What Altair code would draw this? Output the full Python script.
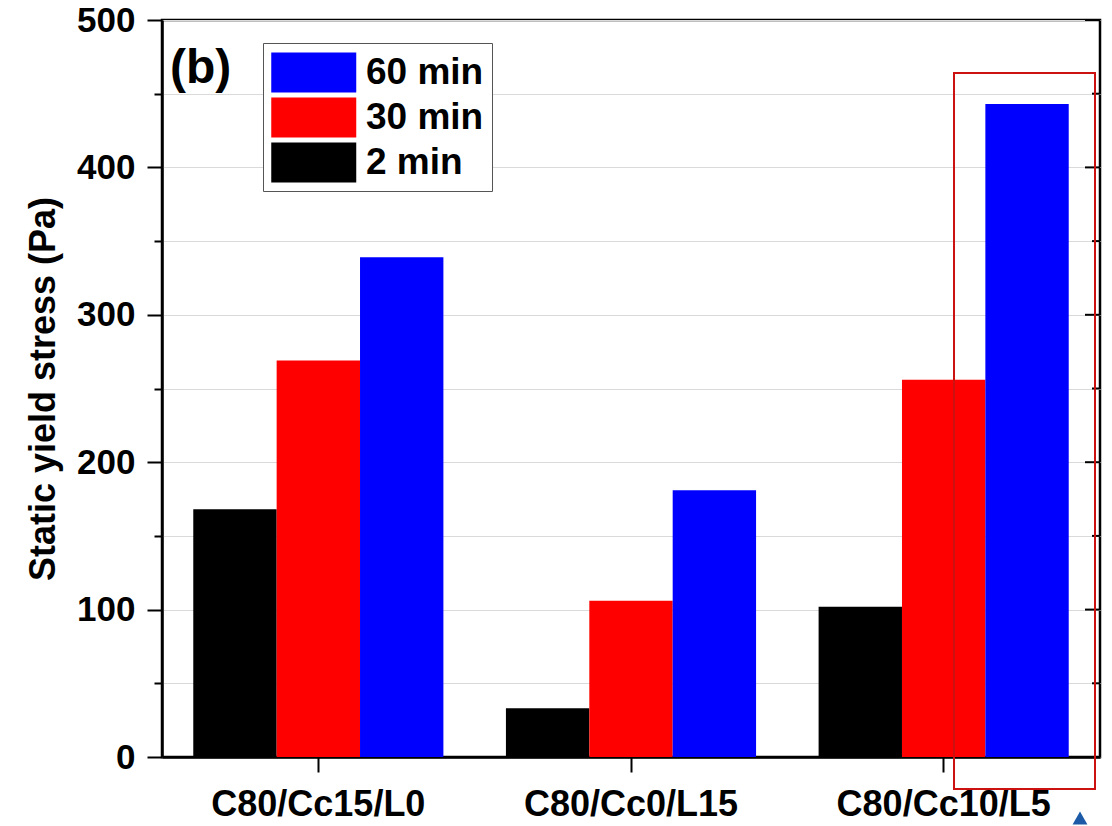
import altair as alt
import pandas as pd

groups = ["C80/Cc15/L0", "C80/Cc0/L15", "C80/Cc10/L5"]
times = ["2 min", "30 min", "60 min"]
legend_order = ["60 min", "30 min", "2 min"]
colors = ["#0000ff", "#ff0000", "#000000"]
v2 = [168, 33, 102]
v30 = [269, 106, 256]
v60 = [339, 181, 443]
y_ticks = [0, 50, 100, 150, 200, 250, 300, 350, 400, 450, 500]
panel_label = ["(b)"]

rows = []
for i, g in enumerate(groups):
    for t, vals in zip(times, [v2, v30, v60]):
        rows.append({"group": g, "time": t, "value": vals[i]})
df = pd.DataFrame(rows)
ticks_major = pd.DataFrame({"value": [v for v in y_ticks if v % 100 == 0]})
ticks_minor = pd.DataFrame({"value": [v for v in y_ticks if v % 100 != 0]})
one = pd.DataFrame({"label": panel_label})

W, H = 938, 737
FONT = "Liberation Sans"
TITLE = "Static yield stress (Pa)"

yscale = alt.Scale(domain=[0, 500], nice=False)

bars = alt.Chart(df).mark_bar(strokeWidth=0).encode(
    x=alt.X("group:N", sort=groups,
            scale=alt.Scale(paddingInner=0.2, paddingOuter=0.1),
            axis=alt.Axis(title=None, labelAngle=0, labelFont=FONT, labelFontSize=36,
                          labelFontWeight="bold", labelColor="black", tickSize=15,
                          tickWidth=2, tickColor="black", domainColor="black",
                          domainWidth=2.5, labelPadding=15, labelLimit=0, grid=False)),
    xOffset=alt.XOffset("time:N", sort=times, scale=alt.Scale(paddingInner=0, paddingOuter=0)),
    y=alt.Y("value:Q", scale=yscale,
            axis=alt.Axis(values=y_ticks, title=TITLE,
                          labelExpr="datum.value % 100 === 0 ? datum.label : ''",
                          tickSize={"condition": {"test": "datum.value % 100 === 0", "value": 15}, "value": 8},
                          tickWidth=2, tickColor="black", domainColor="black", domainWidth=2.5,
                          labelFont=FONT, labelFontSize=35, labelFontWeight="bold",
                          labelColor="black", labelPadding=12,
                          titleFont=FONT, titleFontSize=36, titleFontWeight="bold",
                          titleColor="black", titlePadding=14,
                          grid=True, gridColor="#dadada", gridWidth=1)),
    color=alt.Color("time:N",
                    scale=alt.Scale(domain=legend_order, range=colors),
                    legend=alt.Legend(title=None, orient="none", legendX=101, legendY=23,
                                      symbolType="M-1,-0.94L3,-0.94L3,0.94L-1,0.94Z",
                                      symbolSize=1806, symbolStrokeWidth=0, symbolOpacity=1,
                                      labelFont=FONT, labelFontSize=37, labelFontWeight="bold",
                                      labelColor="black", labelOffset=52,
                                      fillColor="white", strokeColor="#555555",
                                      padding=8, rowPadding=3)),
)

rt_major = alt.Chart(ticks_major).mark_rule(color="black", strokeWidth=2).encode(
    y=alt.Y("value:Q", scale=yscale, title=TITLE),
    x=alt.value(W - 15), x2=alt.value(W))
rt_minor = alt.Chart(ticks_minor).mark_rule(color="black", strokeWidth=2).encode(
    y=alt.Y("value:Q", scale=yscale, title=TITLE),
    x=alt.value(W - 8), x2=alt.value(W))

label_b = alt.Chart(one).mark_text(font=FONT, fontSize=48, fontWeight="bold",
                                   align="left", baseline="middle", color="black").encode(
    text="label:N", x=alt.value(8), y=alt.value(49))

box = alt.Chart(one).mark_rect(fillOpacity=0, stroke="#cc1111", strokeWidth=2).encode(
    x=alt.value(792), x2=alt.value(933), y=alt.value(53), y2=alt.value(769))

tri = alt.Chart(one).mark_point(shape="triangle-up", filled=True, size=220,
                                color="#1c5aa8", opacity=1).encode(
    x=alt.value(918), y=alt.value(798))

chart = alt.layer(bars, rt_major, rt_minor, label_b, box, tri).properties(
    width=W, height=H,
    padding={"left": 162, "top": 20, "right": 12, "bottom": 69},
    autosize=alt.AutoSizeParams(type="none"),
    background="white",
).configure_view(stroke="black", strokeWidth=2.5)

chart.save("out.html", embed_options={"renderer": "svg", "actions": False})
